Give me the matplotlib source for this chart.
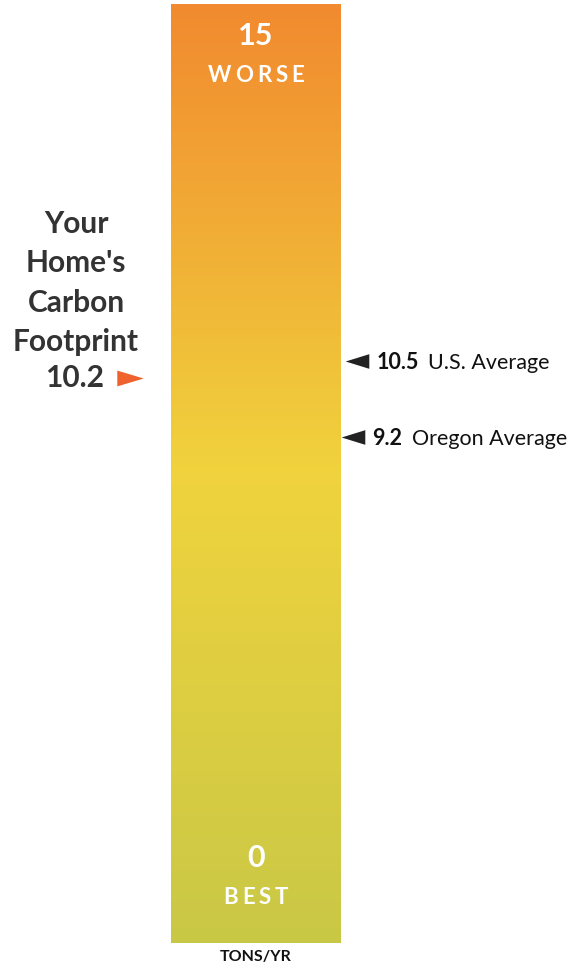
import matplotlib.pyplot as plt
import numpy as np
from matplotlib.colors import LinearSegmentedColormap

plt.rcParams['font.family'] = ['Lato', 'DejaVu Sans']

# data (tons / yr)
your_home = 10.2
avg_labels = ['U.S. Average', 'Oregon Average']
avg_values = [10.5, 9.2]
scale_top, scale_bottom = 15, 0
unit = 'TONS/YR'

W, H = 582, 966
fig = plt.figure(figsize=(W / 100, H / 100), dpi=100)
ax = fig.add_axes([0, 0, 1, 1])
ax.set_xlim(0, W)
# 58.5 px per ton, zero sits just below the figure
ppt = 58.5
ax.set_ylim((975 - H) / ppt, 975 / ppt)
ax.axis('off')

def py(p):
    # pixel row -> data value
    return (975 - p) / ppt

# flat triangles
tri_left = [(-1, 0), (1, 0.62), (1, -0.62), (-1, 0)]
tri_right = [(1, 0), (-1, 0.6), (-1, -0.6), (1, 0)]

# gradient bar
cmap = LinearSegmentedColormap.from_list(
    'bar', [(0, '#c9c846'), (0.5, '#f0d33d'), (1, '#f28a2f')])
grad = np.linspace(0, 1, 256).reshape(-1, 1)
ax.imshow(grad, cmap=cmap, origin='lower', aspect='auto',
          extent=[171, 341, py(943), py(5)], zorder=1)

def spaced(x, y, s, size, gap):
    fig.canvas.draw()
    r = fig.canvas.get_renderer()
    ts = [ax.text(0, y, c, fontsize=size, fontweight='bold', color='white',
                  ha='left', va='center', zorder=3) for c in s]
    ws = [t.get_window_extent(r).width for t in ts]
    total = sum(ws) + gap * (len(s) - 1)
    cx = x - total / 2
    for t, w in zip(ts, ws):
        t.set_x(cx)
        cx += w + gap

ax.text(256, py(36), str(scale_top), fontsize=22, fontweight='bold',
        color='white', ha='center', va='center', zorder=3)
spaced(256, py(75), 'WORSE', 16, 4)
ax.text(256, py(858), str(scale_bottom), fontsize=22, fontweight='bold',
        color='white', ha='center', va='center', zorder=3)
spaced(256, py(897), 'BEST', 16, 4)
ax.text(256, py(957), unit, fontsize=11.5, fontweight='bold', color='#111111',
        ha='center', va='center')

# your home
ax.text(76, py(283), "Your\nHome's\nCarbon\nFootprint", fontsize=21.5,
        fontweight='bold', color='#333333', ha='center', va='center',
        linespacing=1.5)
ax.text(104, your_home, f'{your_home}', fontsize=21.5, fontweight='bold',
        color='#333333', ha='right', va='center')
ax.plot([129.5], [your_home], marker=tri_right, markersize=19,
        color='#f0622d', markeredgewidth=0)

# averages
xs = [356.5, 352.5]
for v, lab, x in zip(avg_values, avg_labels, xs):
    ax.plot([x], [v], marker=tri_left, markersize=17, color='#222222',
            markeredgewidth=0)
    t = ax.text(x + 20, v - 0.03, f'{v}', fontsize=15.5, fontweight='bold',
                color='#111111', ha='left', va='center')
    fig.canvas.draw()
    bb = t.get_window_extent(fig.canvas.get_renderer())
    ax.text(bb.x1 + 9, v - 0.03, lab, fontsize=15.5, color='#111111',
            ha='left', va='center')

fig.savefig('out.png', dpi=100)
